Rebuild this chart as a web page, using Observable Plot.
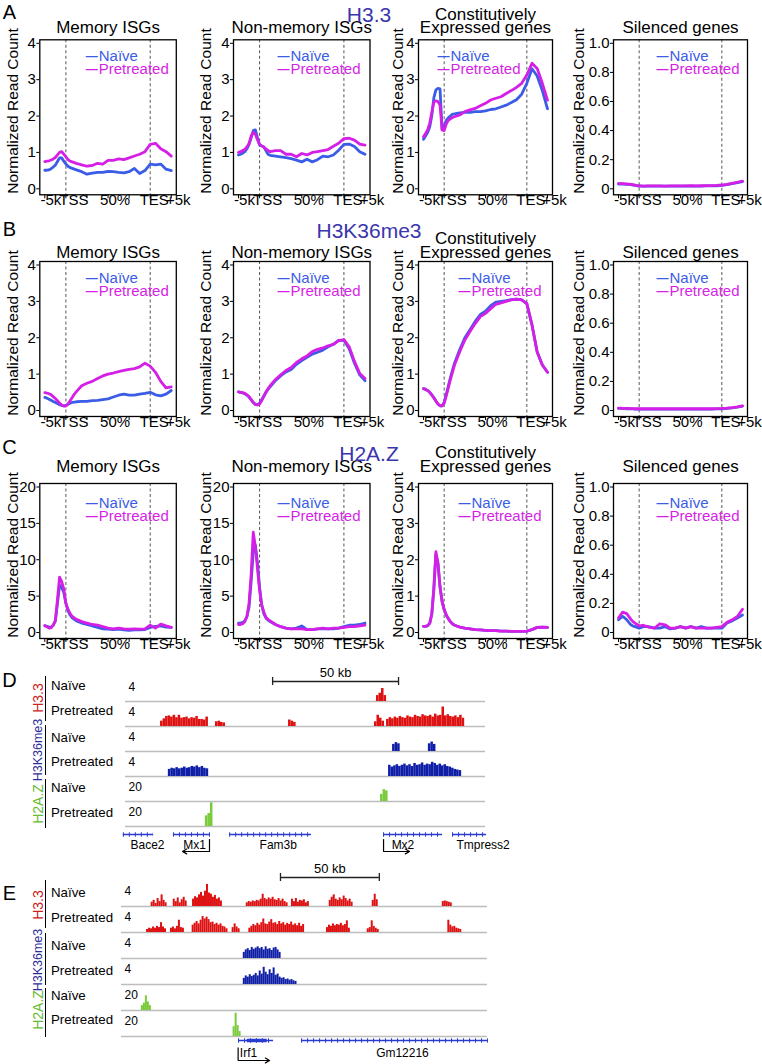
<!DOCTYPE html>
<html><head><meta charset="utf-8">
<script src="https://cdn.jsdelivr.net/npm/d3@7"></script>
<script src="https://cdn.jsdelivr.net/npm/@observablehq/plot@0.6"></script>
<style>
html,body{margin:0;padding:0;background:#fff;}
#fig{position:relative;width:762px;height:1064px;overflow:hidden;background:#fff;font-family:'Liberation Sans',Arial,Helvetica,sans-serif;}
#fig svg{position:absolute;overflow:visible;max-width:none;}
</style></head><body><div id="fig"></div>
<script>
const FONT = "'Liberation Sans', Arial, Helvetica, sans-serif";
const C_NAIVE = "#3b5ce6", C_PRE = "#d61fe6", C_TITLE = "#3a35ad", C_GENE = "#2a3bd0";

// ---------- metagene profiles (A-C) ----------
// x position: 0=-5k, 1=TSS, 5=TES, 6=+5k (gene body 1..5)
const xs = [0,0.1,0.2,0.3,0.4,0.5,0.6,0.7,0.8,0.9,1,1.1,1.2,1.3,1.4,1.5,
            1.75,2,2.25,2.5,2.75,3,3.25,3.5,3.75,4,4.25,4.5,4.75,
            5,5.25,5.5,5.75,6];
const xTickPos = [0,1,2,3,4,5,6];
const xLabelPos = [0,1,3,5,6];
const xLabelText = ["-5k","TSS","50%","TES","+5k"];
const xLabelShift = [6,8,7,4,7];
const groups = ["Memory ISGs","Non-memory ISGs","Constitutively\nExpressed genes","Silenced genes"];
const histoneMarks = ["H3.3","H3K36me3","H2A.Z"];
const panelLetters = ["A","B","C"];
const yAxisTitle = "Normalized Read Count";
const yMax = [[4,4,4,1],[4,4,4,1],[20,20,4,1]];
const ticks4 = [0,1,2,3,4], ticks20 = [0,5,10,15,20], ticks1 = [0,0.2,0.4,0.6,0.8,1];

// H3.3
const h33_mem_naive = [0.51,0.51,0.52,0.55,0.6,0.65,0.75,0.85,0.85,0.76,0.68,0.62,0.58,0.56,0.54,0.52, 0.47,0.4,0.43,0.45,0.45,0.48,0.47,0.45,0.44,0.47,0.56,0.42,0.5, 0.68,0.66,0.68,0.54,0.5];
const h33_mem_pre   = [0.75,0.76,0.77,0.79,0.82,0.86,0.93,1.0,1.02,0.95,0.88,0.8,0.76,0.74,0.72,0.7, 0.66,0.62,0.64,0.7,0.68,0.78,0.78,0.82,0.8,0.85,0.9,0.95,1.02, 1.22,1.25,1.1,1.02,0.9];
const h33_non_naive = [0.93,0.95,0.98,1.02,1.1,1.22,1.4,1.6,1.62,1.4,1.2,1.18,1.15,1.05,0.95,0.92, 0.9,0.88,0.86,0.83,0.79,0.74,0.81,0.74,0.8,0.9,0.88,0.93,1.06, 1.22,1.23,1.16,1.02,0.95];
const h33_non_pre   = [1.0,1.02,1.05,1.08,1.15,1.25,1.45,1.55,1.5,1.35,1.22,1.18,1.15,1.1,1.05,1.02, 1.05,1.05,0.95,0.95,0.88,0.97,0.93,1.0,1.02,1.05,1.08,1.17,1.25, 1.38,1.39,1.34,1.23,1.2];
const h33_con_naive = [1.36,1.45,1.55,1.7,2.0,2.5,2.72,2.76,2.75,1.62,1.72,1.88,1.95,2.0,2.05,2.06, 2.09,2.1,2.1,2.12,2.12,2.14,2.18,2.2,2.25,2.3,2.37,2.45,2.6, 2.9,3.3,3.1,2.7,2.2];
const h33_con_pre   = [1.43,1.52,1.62,1.8,2.1,2.38,2.42,2.4,2.3,1.62,1.6,1.78,1.88,1.92,1.96,1.98, 2.03,2.12,2.17,2.21,2.28,2.35,2.44,2.49,2.53,2.62,2.7,2.79,2.9, 3.13,3.45,3.31,2.9,2.44];
const h33_sil_naive = [0.033,0.033,0.033,0.032,0.031,0.03,0.028,0.026,0.024,0.021,0.019,0.018,0.018,0.018,0.018,0.018, 0.018,0.018,0.018,0.019,0.018,0.018,0.019,0.019,0.018,0.019,0.02,0.02,0.021, 0.024,0.029,0.036,0.043,0.05];
const h33_sil_pre   = [0.035,0.035,0.035,0.034,0.033,0.032,0.03,0.028,0.025,0.022,0.02,0.02,0.019,0.019,0.02,0.02, 0.02,0.02,0.019,0.02,0.02,0.02,0.02,0.021,0.02,0.021,0.022,0.022,0.023, 0.026,0.031,0.038,0.045,0.052];
// H3K36me3
const k36_mem_naive = [0.36,0.34,0.31,0.28,0.25,0.22,0.19,0.16,0.14,0.13,0.14,0.17,0.2,0.22,0.23,0.24, 0.25,0.25,0.27,0.28,0.3,0.32,0.37,0.42,0.45,0.42,0.42,0.45,0.47, 0.5,0.43,0.4,0.45,0.55];
const k36_mem_pre   = [0.49,0.48,0.46,0.43,0.38,0.33,0.27,0.21,0.15,0.12,0.12,0.18,0.27,0.36,0.45,0.52, 0.68,0.75,0.8,0.88,0.95,1.0,1.03,1.07,1.1,1.13,1.15,1.2,1.3, 1.22,1.05,0.8,0.62,0.65];
const k36_non_naive = [0.51,0.5,0.48,0.46,0.42,0.37,0.3,0.22,0.17,0.16,0.2,0.3,0.4,0.5,0.58,0.65, 0.82,0.95,1.06,1.13,1.27,1.37,1.46,1.55,1.6,1.66,1.75,1.82,1.93, 1.93,1.7,1.3,0.98,0.82];
const k36_non_pre   = [0.51,0.5,0.49,0.47,0.43,0.38,0.3,0.22,0.17,0.15,0.18,0.27,0.38,0.5,0.6,0.68, 0.85,0.98,1.1,1.18,1.32,1.42,1.5,1.62,1.68,1.72,1.78,1.82,1.92, 1.95,1.75,1.35,1.02,0.88];
const k36_con_naive = [0.6,0.58,0.55,0.5,0.43,0.35,0.26,0.18,0.13,0.13,0.22,0.44,0.67,0.9,1.1,1.3, 1.67,2.0,2.22,2.45,2.64,2.73,2.88,2.98,3.0,3.02,3.05,3.06,3.04, 2.94,2.35,1.61,1.25,1.05];
const k36_con_pre   = [0.6,0.58,0.55,0.5,0.43,0.35,0.26,0.18,0.13,0.13,0.2,0.4,0.62,0.85,1.05,1.25, 1.61,1.94,2.17,2.39,2.58,2.67,2.8,2.92,2.96,3.0,3.04,3.06,3.04, 2.94,2.35,1.61,1.25,1.05];
const k36_sil_naive = [0.014,0.014,0.013,0.013,0.012,0.012,0.011,0.011,0.01,0.01,0.01,0.01,0.01,0.01,0.01,0.01, 0.01,0.01,0.01,0.01,0.01,0.01,0.01,0.01,0.01,0.01,0.01,0.01,0.011, 0.012,0.014,0.018,0.023,0.03];
const k36_sil_pre   = [0.016,0.016,0.015,0.015,0.014,0.014,0.013,0.013,0.012,0.012,0.012,0.012,0.012,0.012,0.012,0.012, 0.012,0.012,0.012,0.012,0.012,0.012,0.012,0.012,0.012,0.012,0.012,0.012,0.013, 0.014,0.016,0.02,0.025,0.032];
// H2A.Z
const h2az_mem_naive = [0.93,0.85,0.75,0.75,1.0,1.6,4.0,6.5,6.2,5.5,4.0,3.0,2.4,2.0,1.8,1.6, 1.3,1.1,0.9,0.7,0.5,0.45,0.4,0.45,0.35,0.3,0.35,0.35,0.4, 0.7,0.85,0.9,0.75,0.7];
const h2az_mem_pre   = [0.93,0.8,0.6,0.65,1.0,1.6,4.5,7.6,7.0,6.0,4.0,3.2,2.6,2.2,2.0,1.8, 1.5,1.3,1.1,1.0,0.8,0.6,0.5,0.6,0.5,0.45,0.5,0.45,0.5, 1.0,0.6,1.15,0.9,0.7];
const h2az_non_naive = [1.3,1.3,1.4,1.6,2.2,3.5,7.0,11.0,12.0,9.5,6.2,3.8,2.6,2.0,1.7,1.5, 1.1,0.8,0.6,0.5,0.6,0.9,0.4,0.4,0.5,0.5,0.5,0.5,0.6, 0.8,1.0,1.0,1.1,1.3];
const h2az_non_pre   = [1.1,1.1,1.2,1.5,2.2,4.0,8.0,13.8,11.8,8.8,5.8,3.8,2.8,2.1,1.8,1.6, 1.1,0.8,0.6,0.5,0.5,0.5,0.4,0.4,0.5,0.6,0.5,0.6,0.6, 0.7,0.8,0.8,0.9,1.0];
const h2az_con_naive = [0.17,0.17,0.19,0.25,0.5,1.2,2.15,1.9,1.25,0.85,0.63,0.48,0.38,0.3,0.24,0.2, 0.15,0.12,0.1,0.08,0.07,0.06,0.05,0.05,0.04,0.04,0.03,0.03,0.03, 0.04,0.08,0.14,0.15,0.14];
const h2az_con_pre   = [0.17,0.17,0.19,0.25,0.5,1.2,2.22,1.9,1.25,0.85,0.63,0.48,0.38,0.3,0.24,0.2, 0.15,0.12,0.1,0.08,0.07,0.06,0.05,0.05,0.04,0.04,0.03,0.03,0.03, 0.04,0.08,0.14,0.15,0.14];
const h2az_sil_naive = [0.087,0.1,0.11,0.1,0.087,0.07,0.053,0.045,0.04,0.035,0.03,0.035,0.04,0.04,0.04,0.038, 0.03,0.03,0.04,0.025,0.03,0.04,0.03,0.04,0.03,0.04,0.03,0.03,0.03, 0.03,0.065,0.08,0.1,0.12];
const h2az_sil_pre   = [0.1,0.12,0.14,0.135,0.13,0.11,0.09,0.075,0.065,0.055,0.046,0.048,0.05,0.045,0.04,0.035, 0.03,0.06,0.053,0.03,0.03,0.04,0.03,0.04,0.03,0.03,0.03,0.03,0.035, 0.04,0.07,0.087,0.11,0.16];

const series = [
  [[h33_mem_naive,h33_mem_pre],[h33_non_naive,h33_non_pre],[h33_con_naive,h33_con_pre],[h33_sil_naive,h33_sil_pre]],
  [[k36_mem_naive,k36_mem_pre],[k36_non_naive,k36_non_pre],[k36_con_naive,k36_con_pre],[k36_sil_naive,k36_sil_pre]],
  [[h2az_mem_naive,h2az_mem_pre],[h2az_non_naive,h2az_non_pre],[h2az_con_naive,h2az_con_pre],[h2az_sil_naive,h2az_sil_pre]]
];

// ---------- genome browser tracks (D, E) ----------
const trackNames = ["H3.3 Naïve","H3.3 Pretreated","H3K36me3 Naïve","H3K36me3 Pretreated","H2A.Z Naïve","H2A.Z Pretreated"];
const trackMax = [4,4,4,4,20,20];
const trackColors = ["#dd1111","#dd1111","#0e1ea6","#0e1ea6","#7acb3a","#7acb3a"];
// islands: t = track index, s = start (kb), v = signal per 1-kb bin
const D_islands = [
  {t:0, s:99.6, v:[1.0,1.4,2.2,1.0]},
  {t:1, s:13.9, v:[0.9,1.3,1.7,1.8,1.6,1.9,1.5,1.9,1.4,1.5,1.6,1.3,1.5,1.4,1.7,1.2,1.2,1.1,1.6]},
  {t:1, s:35.7, v:[0.8,0.9,0.7,0.6]},
  {t:1, s:64.7, v:[1.1,0.9,0.7]},
  {t:1, s:98.8, v:[0.8,1.9,1.4,0.9]},
  {t:1, s:103.6, v:[1.2,1.5,1.3,1.6,1.4,1.7,1.5,1.4,1.8,1.6,1.5,1.9,1.7,1.6,2.0,1.8,1.7,1.9,1.6,2.1,1.8,1.9,3.3,1.8,2.0,1.7,1.6,1.8,1.5,1.9,1.4]},
  {t:2, s:106, v:[1.2,1.5,1.3]},
  {t:2, s:120.2, v:[1.3,1.6,1.2]},
  {t:3, s:17, v:[1.2,1.4,1.3,1.5,1.3,1.4,1.6,1.4,1.5,1.7,1.6,1.8,1.5,1.7,1.4,1.3]},
  {t:3, s:104.4, v:[1.9,1.6,1.8,2.0,1.7,1.9,2.1,1.8,2.0,1.7,2.2,1.9,2.0,2.3,1.9,2.1,2.0,2.4,2.2,1.9,2.1,1.8,2.0,1.7,1.6,1.4,1.2,1.1,1.0]},
  {t:4, s:101.2, v:[6,10,9]},
  {t:5, s:31.7, v:[9,11,20]}
];
const E_islands = [
  {t:0, s:14.9, v:[0.7,1.0,0.5,1.3,0.8,1.9,1.0,0.6]},
  {t:0, s:26.0, v:[1.2,0.8,1.4,0.6,1.1,1.5,0.9]},
  {t:0, s:35.7, v:[1.2,1.6,1.4,1.9,2.3,1.7,2.5,3.6,2.2,2.0,1.5,1.8,1.2,1.4,0.9]},
  {t:0, s:62.7, v:[0.6,0.8,0.7,0.9,0.8,1.0,0.9,1.2,2.0,1.3,1.1,1.4,1.2,1.5,1.1,1.0,1.3,0.9,1.2,0.8,0.6]},
  {t:0, s:85.4, v:[1.2,0.8,1.3,0.7,1.0,0.9,1.1,0.6,0.8]},
  {t:0, s:104.4, v:[1.0,1.5,1.9,1.2,1.0,1.4,1.1,1.7,1.3,0.9,1.2,0.7]},
  {t:0, s:126.0, v:[1.0,2.0,1.1]},
  {t:0, s:161.2, v:[0.8,0.9,0.8,0.7,0.6]},
  {t:1, s:12.6, v:[0.5,0.7,0.6,0.9,0.7,1.0,0.8,1.6,0.9,0.6]},
  {t:1, s:24.6, v:[0.7,0.9,0.6,1.0,2.0,0.8,0.7]},
  {t:1, s:35.5, v:[1.2,1.5,1.8,1.4,2.0,2.6,2.2,2.5,2.1,1.6,1.7,1.3,1.5,1.2,1.4,1.0,0.9,0.6]},
  {t:1, s:55.6, v:[0.8,1.4,0.9,0.6]},
  {t:1, s:64.0, v:[0.7,1.0,1.3,1.1,1.5,1.2,1.6,2.2,1.4,1.3,1.7,2.1,1.5,1.6,1.3,1.8,1.4,1.6,1.2,1.5,1.3,1.7,1.2,1.4,1.1,1.5,1.0,1.3]},
  {t:1, s:103.0, v:[0.8,1.2,1.0,1.4,1.1,1.3,1.2,1.5,1.1,1.3,1.9,0.7]},
  {t:1, s:123.5, v:[0.6,0.8,1.9,1.0,0.7,0.5]},
  {t:1, s:164.0, v:[2.0,1.2,0.9,1.0,0.7,0.6,0.5]},
  {t:2, s:61.2, v:[1.0,1.4,1.6,1.3,1.8,1.5,1.7,1.9,1.6,1.8,1.4,1.9,1.5,1.6,1.3,1.7,1.8,1.4,1.0]},
  {t:3, s:61.2, v:[1.0,1.4,1.2,1.6,1.3,1.5,1.8,1.4,2.2,1.7,2.8,2.0,1.6,2.4,1.8,2.7,1.5,1.7,1.2,1.0,1.1,0.8,0.9,0.7,0.8,0.6,0.5]},
  {t:4, s:10.0, v:[4,6,12,7,4]},
  {t:5, s:56.1, v:[8,19,9,4]}
];
const D_genes = [
  {name:"Bace2", start:-0.9, end:11.1, lab:8.7},
  {name:"Mx1", start:19, end:33.7, lab:27.4, tss:33.3, arrowEnd:22.6},
  {name:"Fam3b", start:41.3, end:73.8, lab:60.6},
  {name:"Mx2", start:102.4, end:125.8, lab:110.1, tss:102.4, arrowEnd:112.7},
  {name:"Tmpress2", start:129.8, end:143.3, lab:141.9}
];
const D_exons = [];
const E_genes = [
  {name:"Irf1", start:58.8, end:76.4, lab:63.8, tss:58.6, arrowEnd:74.4},
  {name:"Gm12216", start:90.5, end:184.4, lab:141.2}
];
const E_exons = [{start:63.2, end:73.2}];
const D_scale = {start:58.3, end:108.3, label:"50 kb"};
const E_scale = {start:79.9, end:129.6, label:"50 kb"};

// ---------- layout ----------
const fig = document.getElementById("fig");
function place(el, left, top){ el.style.position="absolute"; el.style.left=left+"px"; el.style.top=top+"px"; fig.appendChild(el); }
function label(text, x, y, {size=14, color="#000", rotate=0, anchor="middle", weight="normal"}={}) {
  const d = document.createElement("div");
  d.textContent = text;
  const tx = anchor === "start" ? "0" : "-50%";
  d.style.cssText = `position:absolute;left:${x}px;top:${y}px;font-size:${size}px;color:${color};line-height:1;white-space:nowrap;font-family:${FONT};font-weight:${weight};transform:translate(${tx},-50%) rotate(${rotate}deg);transform-origin:${anchor==="start"?"0 50%":"50% 50%"};`;
  fig.appendChild(d);
}
function vbar(x, y1, y2){ const d=document.createElement("div"); d.style.cssText=`position:absolute;left:${x}px;top:${y1}px;width:0;height:${y2-y1}px;border-left:1.5px solid #000;`; fig.appendChild(d); }

const colL = [39.3,232.7,417.7,613.3], colW = [136.5,136.5,134,134], rowT = [39.3,261,482.7];
const BOX_H = 155;
const titleDy = [-11,-8,-16];
const legDy = [[10.7,23.2],[10.7,24],[14,27]];
const legDx = [[46,44,19,43],[46,44,40,43],[46,44,40,43]];
const ylabDx = [-26,-27,-20,-34];

function mini(r, c) {
  const ymax = yMax[r][c];
  const ticks = ymax === 20 ? ticks20 : ymax === 4 ? ticks4 : ticks1;
  const fmt = ymax === 1 ? (d => d === 0 ? "0" : d.toFixed(1)) : (d => String(d));
  const [naive, pre] = series[r][c];
  const ml = Math.min(40, colL[c]), mt = Math.min(46, rowT[r]), mr = 10, mb = 26, W = colW[c], H = BOX_H;
  const pts = arr => xs.map((x,i)=>({x, v: arr[i]}));
  const title = groups[c];
  const nLines = title.split("\n").length;
  const ld = legDx[r][c];
  const xLabelMarks = xLabelPos.map((p, i) =>
    Plot.text([p], {x: d => d, text: () => xLabelText[i], frameAnchor: "bottom", dy: 10.5, dx: xLabelShift[i], fontSize: 15}));
  const svg = Plot.plot({
    width: ml+W+mr, height: mt+H+mb,
    marginLeft: ml, marginRight: mr, marginTop: mt, marginBottom: mb,
    style: {fontFamily: FONT, fontSize: "15px", background: "transparent", color: "#000", overflow: "visible"},
    x: {domain:[0,6], range:[ml+5, ml+W-5], ticks: xTickPos, tickFormat: () => "", tickSize: 4, label: null},
    y: {domain:[0,ymax], range:[mt+149, mt+3.5], ticks, tickFormat: fmt, tickSize: 3, tickPadding: 1, label: null},
    marks: [
      Plot.ruleX([1,5], {stroke:"#555", strokeWidth:1, strokeDasharray:"3,2.5"}),
      Plot.line(pts(naive), {x:"x", y:"v", stroke:C_NAIVE, strokeWidth:2.8, strokeLinejoin:"round"}),
      Plot.line(pts(pre), {x:"x", y:"v", stroke:C_PRE, strokeWidth:2.8, strokeLinejoin:"round"}),
      Plot.frame({stroke:"#000", strokeWidth:1.3}),
      ...xLabelMarks,
      Plot.text(["\u2014"], {frameAnchor:"top-left", dx: ld, dy: legDy[r][0]+1, fill:C_NAIVE, fontSize:12, fontWeight:"bold", textAnchor:"start"}),
      Plot.text(["Naïve"], {frameAnchor:"top-left", dx: ld+13, dy: legDy[r][0], fill:C_NAIVE, fontSize:15, textAnchor:"start"}),
      Plot.text(["\u2014"], {frameAnchor:"top-left", dx: ld, dy: legDy[r][1]+1, fill:C_PRE, fontSize:12, fontWeight:"bold", textAnchor:"start"}),
      Plot.text(["Pretreated"], {frameAnchor:"top-left", dx: ld+13, dy: legDy[r][1], fill:C_PRE, fontSize:15, textAnchor:"start"}),
      Plot.text([title], {frameAnchor:"top", dy: titleDy[r] - (nLines-1)*6.75, fontSize:17, lineHeight:0.8, lineAnchor:"middle"})
    ]
  });
  place(svg, colL[c]-ml, rowT[r]-mt);
  label(yAxisTitle, colL[c] + ylabDx[c], rowT[r] + 72, {size:15.5, rotate:-90});
}
for (let r = 0; r < 3; r++) for (let c = 0; c < 4; c++) mini(r, c);

const rowLetterY = [11.5, 228.5, 446.5], rowMarkY = [13.5, 229.5, 452.5];
for (let r = 0; r < 3; r++) {
  label(panelLetters[r], 9.5, rowLetterY[r], {size:20});
  label(histoneMarks[r], 369, rowMarkY[r], {size:21, color:C_TITLE});
}

function browser({islands, P0, S, view, base0, bandH}) {
  const pad = 5;
  const width = S*(view[1]-view[0]) + 2*pad;
  const bars = islands.flatMap(is => is.v.map((v,i)=>({track: trackNames[is.t], x1: is.s + i, x2: is.s + i + 1, y: v/trackMax[is.t], fill: trackColors[is.t]})));
  const meta = trackNames.map((t,i)=>({track:t, label:String(trackMax[i])}));
  const svg = Plot.plot({
    width, height: bandH*trackNames.length,
    marginLeft: pad, marginRight: pad, marginTop: 0, marginBottom: 0,
    style: {fontFamily: FONT, fontSize: "12px", background: "transparent", color: "#000", overflow:"visible"},
    x: {domain: view, axis: null},
    y: {domain: [0, 1.06], axis: null},
    fy: {domain: trackNames, padding: 0, axis: null},
    color: {type: "identity"},
    marks: [
      Plot.ruleY([0], {stroke:"#bdbdbd", strokeWidth:1.5}),
      Plot.rect(bars, {x1:"x1", x2:"x2", y1:0, y2:"y", fy:"track", fill:"fill"}),
      Plot.text(meta, {fy:"track", text:"label", frameAnchor:"top-left", dx:3, dy:6, fontSize:12, textAnchor:"start"})
    ]
  });
  place(svg, P0 + S*view[0] - pad, base0 - bandH);
}
function genesPlot({genes, exons, P0, S, view, top, drop, labelF, tssTopF}) {
  const width = S*(view[1]-view[0]);
  const svg = Plot.plot({
    width, height: drop + 24, margin: 0,
    style: {fontFamily: FONT, fontSize: "12px", background: "transparent", color: "#000", overflow:"visible"},
    x: {domain: view, axis: null},
    y: {domain: [0,1], range: [8, 8+drop], axis: null},
    marks: [
      Plot.ruleY(genes, {x1:"start", x2:"end", y:0, stroke:C_GENE, strokeWidth:1.5}),
      Plot.ruleY(genes, {x1:"start", x2:"end", y:0, stroke:C_GENE, strokeWidth:4.5, strokeDasharray:"1,5"}),
      Plot.ruleY(exons, {x1:"start", x2:"end", y:0, stroke:C_GENE, strokeWidth:3.5}),
      Plot.text(genes, {x:"lab", y:labelF, text:"name", fontSize:12}),
      Plot.ruleX(genes.filter(g => g.tss != null), {x:"tss", y1:tssTopF, y2:1, stroke:"#000", strokeWidth:1.2}),
      Plot.arrow(genes.filter(g => g.tss != null), {x1:"tss", x2:"arrowEnd", y1:1, y2:1, stroke:"#000", strokeWidth:1.2, headLength:6})
    ]
  });
  place(svg, P0 + S*view[0], top);
}
function scaleBar({bar, P0, S, top}) {
  const k0 = bar.start - 4, k1 = bar.end + 4;
  const svg = Plot.plot({
    width: S*(k1-k0), height: 28, margin: 0,
    style: {fontFamily: FONT, fontSize: "13px", background: "transparent", color: "#000", overflow:"visible"},
    x: {domain: [k0, k1], axis: null},
    y: {domain: [0,1], range: [19, 10], axis: null},
    marks: [
      Plot.ruleY([bar], {x1:"start", x2:"end", y:0, stroke:"#222", strokeWidth:1.3}),
      Plot.ruleX([bar.start, bar.end], {y1:-0.45, y2:0.45, stroke:"#222", strokeWidth:1.3}),
      Plot.text([bar], {x: d => (d.start+d.end)/2, y:1, text:"label", fontSize:13})
    ]
  });
  place(svg, P0 + S*k0, top);
}

// Panel D
browser({islands: D_islands, P0:125, S:2.52, view:[0,142.9], base0:700, bandH:25.8});
genesPlot({genes: D_genes, exons: D_exons, P0:125, S:2.52, view:[-2,146], top:826, drop:17, labelF:0.65, tssTopF:0.3});
scaleBar({bar: D_scale, P0:125, S:2.52, top:662});
// Panel E
browser({islands: E_islands, P0:121, S:1.99, view:[0,183.9], base0:904, bandH:26.5});
genesPlot({genes: E_genes, exons: E_exons, P0:121, S:1.99, view:[0,185], top:1032, drop:20, labelF:0.63, tssTopF:0.37});
scaleBar({bar: E_scale, P0:121, S:1.99, top:857.7});

// left labels for D and E
const sideRows = ["Naïve","Pretreated","Naïve","Pretreated","Naïve","Pretreated"];
const sideGroups = [["H3.3","#cc2222",14],["H3K36me3","#2e2e99",12.5],["H2A.Z","#66bb33",14]];
const D_rowY = [686,711,738,762,788,813], E_rowY = [893,918,945.7,971,995.7,1020];
const D_bars = [[676,721],[725,775],[779,828]], E_bars = [[880,928],[933,985],[988,1037]];
const D_groupY = [698,750,804], E_groupY = [905,960,1010];
label("D", 9.5, 679.5, {size:20});
label("E", 9.5, 892.5, {size:20});
sideRows.forEach((t,i) => { label(t, 51, D_rowY[i], {size:13.3, anchor:"start"}); label(t, 51, E_rowY[i], {size:13.3, anchor:"start"}); });
D_bars.forEach(([a,b]) => vbar(45, a, b));
E_bars.forEach(([a,b]) => vbar(45, a, b));
sideGroups.forEach(([t,col,sz],i) => { label(t, 38, D_groupY[i], {size:sz, color:col, rotate:-90}); label(t, 38, E_groupY[i], {size:sz, color:col, rotate:-90}); });
</script></body></html>
